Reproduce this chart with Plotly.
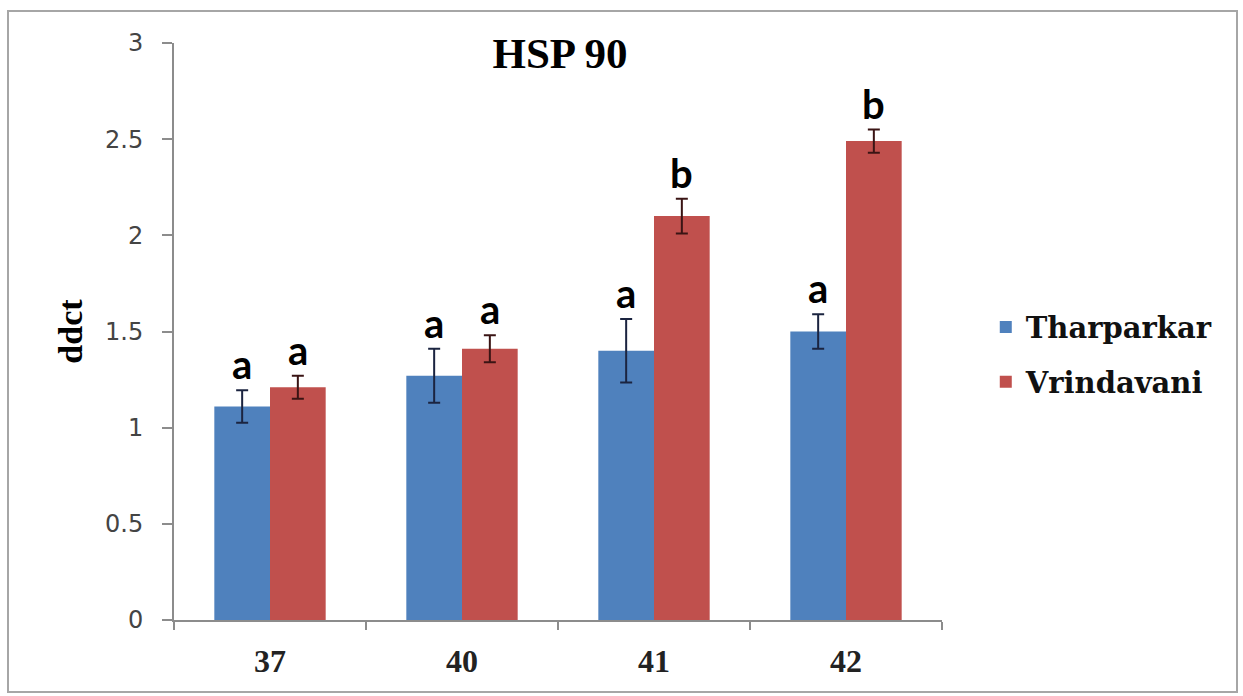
import plotly.graph_objects as go

categories = ["37", "40", "41", "42"]
tharparkar = [1.11, 1.27, 1.40, 1.50]
tharparkar_err = [0.085, 0.14, 0.165, 0.09]
vrindavani = [1.21, 1.41, 2.10, 2.49]
vrindavani_err = [0.06, 0.07, 0.09, 0.06]
tharparkar_letters = ["a", "a", "a", "a"]
vrindavani_letters = ["a", "a", "b", "b"]
y_ticks = [0, 0.5, 1, 1.5, 2, 2.5, 3]
y_ticktext = ["0", "0.5", "1", "1.5", "2", "2.5", "3"]

W, H = 1243, 696
ML, MR, MT, MB = 174, 301, 43, 76
BARGAP = 0.42
BLUE = "#4F81BD"
RED = "#C0504D"

fig = go.Figure()
fig.add_trace(go.Bar(
    name="Tharparkar", x=categories, y=tharparkar, marker_color=BLUE,
    marker_line_width=0, legendgroup="t",
    error_y=dict(type="data", array=tharparkar_err, visible=True,
                 color="#1b2440", thickness=2, width=6),
))
fig.add_trace(go.Bar(
    name="Vrindavani", x=categories, y=vrindavani, marker_color=RED,
    marker_line_width=0, legendgroup="v",
    error_y=dict(type="data", array=vrindavani_err, visible=True,
                 color="#3a1414", thickness=2, width=6),
))

off = (1 - BARGAP) / 4
letter_font = dict(family="Lato", size=40, color="black")
for i, c in enumerate(categories):
    fig.add_annotation(x=i - off, y=tharparkar[i] + tharparkar_err[i], xref="x", yref="y",
                       text="<b>%s</b>" % tharparkar_letters[i], showarrow=False,
                       yanchor="bottom", yshift=0, font=letter_font)
    fig.add_annotation(x=i + off, y=vrindavani[i] + vrindavani_err[i], xref="x", yref="y",
                       text="<b>%s</b>" % vrindavani_letters[i], showarrow=False,
                       yanchor="bottom", yshift=0, font=letter_font)

pw = W - ML - MR
ph = H - MT - MB
bx0, by0, bx1, by1 = 8, 11, 1237, 692
fig.add_shape(type="rect", xref="paper", yref="paper",
              x0=(bx0 - ML) / pw, x1=(bx1 - ML) / pw,
              y0=(H - MB - by1) / ph, y1=(H - MB - by0) / ph,
              line=dict(color="#a6a6a6", width=2), layer="below")

fig.update_layout(
    width=W, height=H,
    margin=dict(l=ML, r=MR, t=MT, b=MB),
    paper_bgcolor="white", plot_bgcolor="white",
    barmode="group", bargap=BARGAP, bargroupgap=0,
    title=dict(text="<b>HSP 90</b>", x=560 / W, xref="container", xanchor="center",
               y=1 - 53 / H, yref="container", yanchor="middle",
               font=dict(family="Liberation Serif", size=43, color="black")),
    legend=dict(x=1.057, xanchor="left", y=0.46, yanchor="middle",
                font=dict(family="DejaVu Serif", size=29, color="#111", weight="bold"),
                traceorder="grouped", tracegroupgap=14, bgcolor="rgba(0,0,0,0)"),
    xaxis=dict(type="category", showline=True, linecolor="#8c8c8c", linewidth=2,
               ticks="outside", tickson="boundaries", ticklen=8, tickwidth=2,
               tickcolor="#8c8c8c", ticklabelstandoff=12,
               tickfont=dict(family="Liberation Serif", size=32, color="#222", weight="bold"),
               showgrid=False, zeroline=False),
    yaxis=dict(range=[0, 3], tickvals=y_ticks, ticktext=y_ticktext,
               showline=True, linecolor="#8c8c8c", linewidth=2,
               ticks="outside", ticklen=10, tickwidth=2, tickcolor="#8c8c8c",
               ticklabelstandoff=14,
               tickfont=dict(family="DejaVu Sans", size=24, color="#444"),
               title=dict(text="<b>ddct</b>", standoff=12,
                          font=dict(family="Liberation Serif", size=34, color="black")),
               showgrid=False, zeroline=False),
)

fig.write_html("out.html", config={"displayModeBar": False},
               post_script="document.body.style.margin='0';")
